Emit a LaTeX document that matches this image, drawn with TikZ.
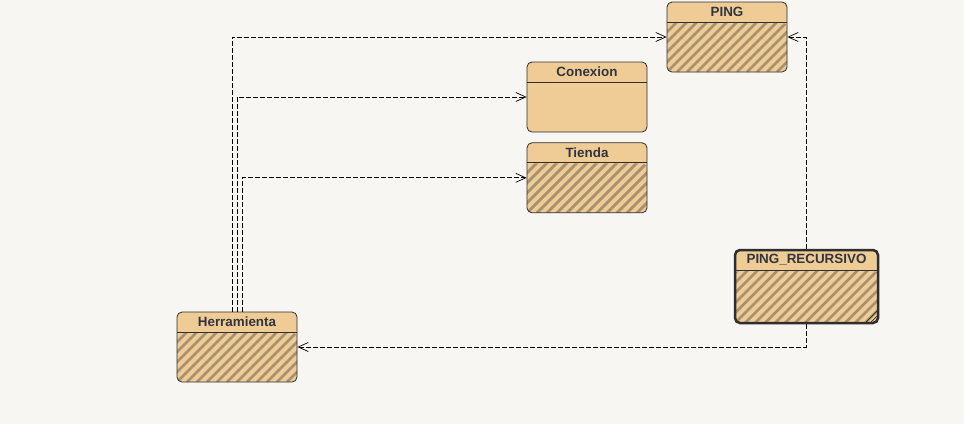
\documentclass[tikz,border=0pt]{standalone}
\usepackage{fontspec}
\setmainfont{Liberation Sans}
\usepackage{tikz}
\usetikzlibrary{calc,positioning,arrows.meta}
\definecolor{fondo}{HTML}{F7F6F2}
\definecolor{relleno}{HTML}{EFCC95}
\definecolor{raya}{HTML}{A8916F}
\definecolor{borde}{HTML}{2E2E2E}
\definecolor{texto}{HTML}{30353F}
\newcommand{\cabecera}{%
  \draw[borde,line width=0.8pt] ($(path picture bounding box.north west)+(0pt,-20pt)$) -- ($(path picture bounding box.north east)+(0pt,-20pt)$);}
\newcommand{\rayas}{%
  \begin{scope}
    \clip (path picture bounding box.south west) rectangle ($(path picture bounding box.north east)+(0pt,-20.5pt)$);
    \foreach \k in {0,10,...,230}
      \draw[raya,line width=2.8pt] ($(path picture bounding box.south west)+(\k pt-90pt,0pt)$) -- ++(90pt,90pt);
  \end{scope}}
\newcommand{\esquina}{%
  \draw[borde,line width=0.7pt] ($(path picture bounding box.south east)+(-13pt,0pt)$) -- ++(13pt,13pt);
  \draw[borde,line width=0.7pt] ($(path picture bounding box.south east)+(-8pt,0pt)$) -- ++(8pt,8pt);}
\tikzset{
  clase/.style={draw=borde, fill=relleno, rounded corners=5pt, minimum width=120pt, minimum height=70pt, line width=0.8pt, inner sep=0pt,
    label={[anchor=center, yshift=-10.5pt, font=\fontsize{13.4}{15}\selectfont\bfseries, text=texto]north:#1}},
  vacia/.style={path picture={\cabecera}},
  rayada/.style={path picture={\rayas\cabecera}},
  dep/.style={draw=black, line width=0.7pt, dash pattern=on 5pt off 2pt, -{Straight Barb[length=10pt,width=9pt,line width=0.7pt]}},
}
\begin{document}
\begin{tikzpicture}[x=1pt,y=-1pt]
  \fill[fondo] (0,0) rectangle (964,424);
  \useasboundingbox (0,0) rectangle (964,424);
  % clases
  \node[clase=PING, rayada] (ping) at (727,37) {};
  \node[clase=Conexion, vacia] (conexion) at (587,97) {};
  \node[clase=Tienda, rayada] (tienda) [below=10pt of conexion] {};
  \node[clase=Herramienta, rayada] (herramienta) at (237,347) {};
  \node[clase=PING\_RECURSIVO, line width=2.5pt, minimum width=143pt, minimum height=73pt, path picture={\rayas\cabecera\esquina}] (recursivo) at (806.5,286.5) {};
  % dependencias
  \draw[dep] ([xshift=-5pt]herramienta.north) |- (ping);
  \draw[dep] (herramienta.north) |- (conexion);
  \draw[dep] ([xshift=5pt]herramienta.north) |- (tienda);
  \draw[dep] (recursivo.north) |- (ping);
  \draw[dep] (recursivo.south) |- (herramienta);
\end{tikzpicture}
\end{document}
